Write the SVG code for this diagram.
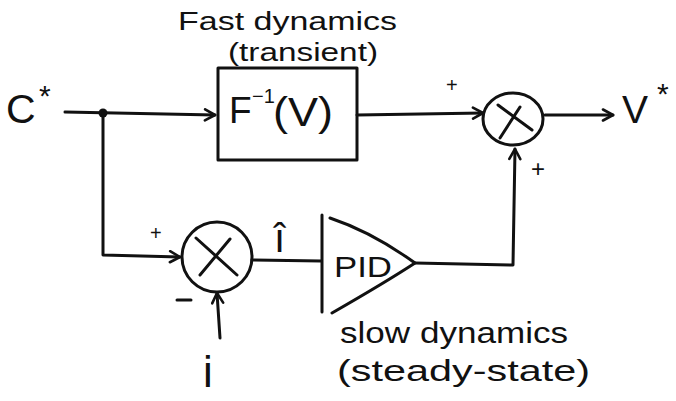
<svg xmlns="http://www.w3.org/2000/svg" width="676" height="401" viewBox="0 0 676 401">
  <style>
    .ln { fill: none; stroke: #111; stroke-width: 3; stroke-linecap: round; stroke-linejoin: round; }
    .sh { fill: none; stroke: #111; stroke-width: 3; stroke-linecap: round; stroke-linejoin: round; }
    .tx { font-family: "Liberation Sans", "DejaVu Sans", sans-serif; fill: #111; }
  </style>
  <defs>
    <marker id="arr" viewBox="0 0 14 14" refX="12" refY="7" markerWidth="14" markerHeight="14" markerUnits="userSpaceOnUse" orient="auto">
      <path d="M2,1.5 L12,7 L2,12.5" fill="none" stroke="#111" stroke-width="2.6" stroke-linecap="round" stroke-linejoin="round"/>
    </marker>
  </defs>
  <rect width="676" height="401" fill="#fff"/>

  <!-- annotations -->
  <g id="fast-label" class="tx">
    <text x="178" y="30" font-size="25" textLength="219" lengthAdjust="spacingAndGlyphs">Fast dynamics</text>
    <text x="228" y="61" font-size="25" textLength="150" lengthAdjust="spacingAndGlyphs">(transient)</text>
  </g>
  <g id="slow-label" class="tx">
    <text x="340" y="343" font-size="29" textLength="228" lengthAdjust="spacingAndGlyphs">slow dynamics</text>
    <text x="337" y="381" font-size="29" textLength="253" lengthAdjust="spacingAndGlyphs">(steady-state)</text>
  </g>

  <!-- signals -->
  <g id="input-ref" class="tx">
    <text x="6" y="123" font-size="41">C</text>
    <text x="39" y="106" font-size="30">*</text>
  </g>
  <g id="output-ref" class="tx">
    <text x="622" y="123" font-size="39">V</text>
    <text x="657" y="104" font-size="30">*</text>
  </g>
  <g id="feedback-i" class="tx">
    <text x="203" y="387" font-size="44">i</text>
  </g>
  <g id="error-ihat" class="tx">
    <text x="274" y="252" font-size="40">î</text>
  </g>

  <!-- connectors -->
  <g id="connectors">
    <path class="ln" d="M65,112 L215,115" marker-end="url(#arr)"/>
    <circle cx="103" cy="113" r="4.5" fill="#111"/>
    <path class="ln" d="M103,113 L103,255 L180,257" marker-end="url(#arr)"/>
    <path class="ln" d="M357,115 L483,113" marker-end="url(#arr)"/>
    <path class="ln" d="M545,115 L613,115" marker-end="url(#arr)"/>
    <path class="ln" d="M252,260 L321,261"/>
    <path class="ln" d="M415,263 L513,265 L515,149" marker-end="url(#arr)"/>
    <path class="ln" d="M220,338 L217,293" marker-end="url(#arr)"/>
  </g>

  <!-- inverse-model block -->
  <g id="inverse-block">
    <rect class="sh" x="218" y="68" width="139" height="92"/>
    <text class="tx" x="229" y="123" font-size="37">F</text>
    <text class="tx" x="252" y="103" font-size="20">−1</text>
    <text class="tx" x="273" y="126" font-size="40" textLength="60" lengthAdjust="spacingAndGlyphs">(V)</text>
  </g>

  <!-- output summing junction -->
  <g id="sum-out">
    <ellipse class="sh" cx="513" cy="119" rx="30" ry="26"/>
    <path class="sh" d="M498,105 L532,130 M500,138 L520,107"/>
    <text class="tx" x="446" y="92" font-size="20">+</text>
    <text class="tx" x="531" y="177" font-size="24">+</text>
  </g>

  <!-- error summing junction -->
  <g id="sum-err">
    <ellipse class="sh" cx="217" cy="257" rx="35" ry="35"/>
    <path class="sh" d="M196,238 L237,275 M200,275 L230,239"/>
    <text class="tx" x="150" y="240" font-size="20">+</text>
    <path class="sh" d="M177,300 L191,300"/>
  </g>

  <!-- PID controller -->
  <g id="pid">
    <path class="sh" d="M322,215 L322,312"/>
    <path class="sh" d="M330,218 Q372,232 415,263 Q386,282 332,313"/>
    <text class="tx" x="334" y="277" font-size="30" textLength="58" lengthAdjust="spacingAndGlyphs">PID</text>
  </g>
</svg>
